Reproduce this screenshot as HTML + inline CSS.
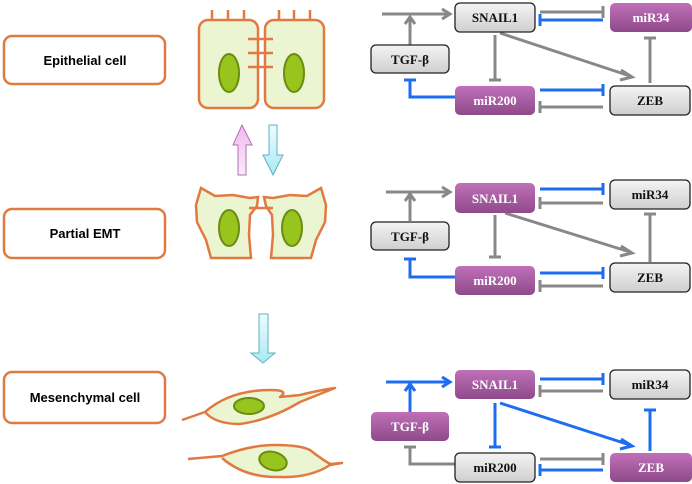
<!DOCTYPE html>
<html><head><meta charset="utf-8"><style>
html,body{margin:0;padding:0;background:#fff;width:692px;height:484px;overflow:hidden}
svg{display:block}
text{font-family:"Liberation Serif",serif;font-weight:bold;font-size:13px;text-anchor:middle}
.lab{font-family:"Liberation Sans",sans-serif;font-size:13px}
</style></head><body>
<svg width="692" height="484" viewBox="0 0 692 484" xmlns="http://www.w3.org/2000/svg">
<defs>
<linearGradient id="gg" x1="0" y1="0" x2="0" y2="1"><stop offset="0" stop-color="#f4f4f4"/><stop offset="1" stop-color="#cfcfcf"/></linearGradient>
<linearGradient id="pg" x1="0" y1="0" x2="0" y2="1"><stop offset="0" stop-color="#c070b8"/><stop offset="1" stop-color="#8e4a8a"/></linearGradient>
<linearGradient id="pk" x1="0" y1="0" x2="0" y2="1"><stop offset="0" stop-color="#f0b8ee"/><stop offset="1" stop-color="#fbeafb"/></linearGradient>
<linearGradient id="cy" x1="0" y1="0" x2="0" y2="1"><stop offset="0" stop-color="#eefcfe"/><stop offset="1" stop-color="#a8eaf4"/></linearGradient>
</defs>
<g fill="#fff" stroke="#e07a40" stroke-width="2.5">
<rect x="4" y="36" width="161" height="48" rx="8"/>
<rect x="4" y="209" width="161" height="49" rx="8"/>
<rect x="4" y="372" width="161" height="51" rx="8"/>
</g>
<text class="lab" x="85" y="65">Epithelial cell</text>
<text class="lab" x="85" y="238">Partial EMT</text>
<text class="lab" x="85" y="402">Mesenchymal  cell</text>

<g stroke="#e07a40" stroke-width="2.5">
<line x1="212" y1="10" x2="212" y2="29"/><line x1="228" y1="10" x2="228" y2="29"/><line x1="244" y1="10" x2="244" y2="29"/>
<line x1="279" y1="10" x2="279" y2="29"/><line x1="294" y1="10" x2="294" y2="29"/><line x1="310" y1="10" x2="310" y2="29"/>
<rect x="199" y="20" width="59" height="88" rx="9" fill="#ecf5d2"/>
<rect x="265" y="20" width="59" height="88" rx="9" fill="#ecf5d2"/>
<line x1="248" y1="39" x2="273" y2="39"/><line x1="248" y1="53" x2="273" y2="53"/><line x1="248" y1="67" x2="273" y2="67"/>
</g>
<g fill="#98c41e" stroke="#6a8c10" stroke-width="2">
<ellipse cx="229" cy="73" rx="10" ry="19"/><ellipse cx="294" cy="73" rx="10" ry="19"/>
</g>
<path d="M238,175 L238,145 L233,145 L242,125 L252,145 L246,145 L246,175 Z" fill="url(#pk)" stroke="#b070b0"/>
<path d="M269,125 L277,125 L277,155 L283,155 L273,175 L263,155 L269,155 Z" fill="url(#cy)" stroke="#60b0c0"/>
<path d="M259,314 L268,314 L268,353 L275,353 L263,363 L251,353 L259,353 Z" fill="url(#cy)" stroke="#60b0c0"/>

<g stroke="#e07a40" stroke-width="2.5" fill="#ecf5d2">
<path d="M201,188 L215,196 L233,195 L250,198 L258,197 L257,206 L250,215 L249,235 L251,258 L211,258 L206,240 L197,222 L196,205 Z"/>
<path d="M321,188 L307,196 L290,195 L273,198 L264,197 L266,206 L272,215 L273,235 L271,258 L311,258 L316,240 L325,222 L326,205 Z"/>
<line x1="249" y1="208" x2="273" y2="208"/>
</g>
<g fill="#98c41e" stroke="#6a8c10" stroke-width="2">
<ellipse cx="229" cy="228" rx="10" ry="18"/><ellipse cx="292" cy="228" rx="10" ry="18"/>
</g>

<g stroke="#e07a40" stroke-width="2.5" fill="#ecf5d2" stroke-linejoin="round">
<path d="M182,420 L205,412 Q230,390 270,390 Q290,390 280,397 L300,395 Q320,390 335,388 Q320,394 300,402 Q270,420 240,424 Q215,424 205,412"/>
<path d="M188,459 L222,456 Q250,445 275,445 Q300,445 310,450 Q320,458 330,464 L342,463 L330,465 Q310,478 280,477 Q245,478 222,458"/>
</g>
<g fill="#98c41e" stroke="#6a8c10" stroke-width="2">
<ellipse cx="249" cy="406" rx="15" ry="8"/><ellipse cx="273" cy="461" rx="14" ry="9" transform="rotate(15 273 461)"/>
</g>

<g stroke-width="3" fill="none">
<g>
<path d="M382,14 H448 M442,9 L450,14 L442,19" stroke="#888"/>
<path d="M410,45 V18 M405,24 L410,17 L415,24" stroke="#888"/>
<path d="M540,12 H603 M603,6 V18" stroke="#888"/>
<path d="M603,20 H540 M540,14 V26" stroke="#1e6cf0"/>
<path d="M495,35 V80 M489,80 H501" stroke="#888"/>
<path d="M500,33 L630,76 M621,70 L632,77 L620,80" stroke="#888"/>
<path d="M650,83 V38 M644,38 H656" stroke="#888"/>
<path d="M455,97 H410 V80 M404,80 H416" stroke="#1e6cf0"/>
<path d="M540,90 H603 M603,84 V96" stroke="#1e6cf0"/>
<path d="M603,107 H540 M540,101 V113" stroke="#888"/>
</g>
<g transform="translate(0,180)">
<path d="M386,12 H448 M442,7 L450,12 L442,17" stroke="#888"/>
<path d="M410,41 V15 M405,21 L410,14 L415,21" stroke="#888"/>
<path d="M540,9 H603 M603,3 V15" stroke="#1e6cf0"/>
<path d="M603,23 H540 M540,17 V29" stroke="#888"/>
<path d="M495,35 V77 M489,77 H501" stroke="#888"/>
<path d="M505,33 L630,72 M621,66 L632,73 L620,76" stroke="#888"/>
<path d="M650,82 V34 M644,34 H656" stroke="#888"/>
<path d="M455,97 H410 V79 M404,79 H416" stroke="#1e6cf0"/>
<path d="M540,93 H603 M603,87 V99" stroke="#1e6cf0"/>
<path d="M603,106 H540 M540,100 V112" stroke="#888"/>
</g>
<g transform="translate(0,367)">
<path d="M386,15 H448 M442,10 L450,15 L442,20" stroke="#1e6cf0"/>
<path d="M410,45 V18 M405,24 L410,17 L415,24" stroke="#1e6cf0"/>
<path d="M540,12 H603 M603,6 V18" stroke="#1e6cf0"/>
<path d="M603,24 H540 M540,18 V30" stroke="#888"/>
<path d="M495,36 V80 M489,80 H501" stroke="#1e6cf0"/>
<path d="M500,36 L630,78 M621,72 L632,79 L620,82" stroke="#1e6cf0"/>
<path d="M650,84 V43 M644,43 H656" stroke="#1e6cf0"/>
<path d="M455,97 H410 V80 M404,80 H416" stroke="#888"/>
<path d="M540,92 H603 M603,86 V98" stroke="#888"/>
<path d="M603,103 H540 M540,97 V109" stroke="#1e6cf0"/>
</g>
</g>

<g stroke="#222" stroke-width="1.3">
<rect x="455" y="3" width="80" height="29" rx="5" fill="url(#gg)"/>
<rect x="610" y="3" width="82" height="29" rx="5" fill="url(#pg)" stroke="none"/>
<rect x="371" y="45" width="78" height="28" rx="5" fill="url(#gg)"/>
<rect x="455" y="86" width="80" height="29" rx="5" fill="url(#pg)" stroke="none"/>
<rect x="610" y="86" width="80" height="29" rx="5" fill="url(#gg)"/>
<rect x="455" y="183" width="80" height="30" rx="5" fill="url(#pg)" stroke="none"/>
<rect x="610" y="180" width="80" height="29" rx="5" fill="url(#gg)"/>
<rect x="371" y="222" width="78" height="28" rx="5" fill="url(#gg)"/>
<rect x="455" y="266" width="80" height="29" rx="5" fill="url(#pg)" stroke="none"/>
<rect x="610" y="263" width="80" height="29" rx="5" fill="url(#gg)"/>
<rect x="455" y="370" width="80" height="29" rx="5" fill="url(#pg)" stroke="none"/>
<rect x="610" y="370" width="80" height="29" rx="5" fill="url(#gg)"/>
<rect x="371" y="412" width="78" height="29" rx="5" fill="url(#pg)" stroke="none"/>
<rect x="455" y="453" width="80" height="29" rx="5" fill="url(#gg)"/>
<rect x="610" y="453" width="82" height="29" rx="5" fill="url(#pg)" stroke="none"/>
</g>
<g>
<text x="495" y="22" fill="#111">SNAIL1</text>
<text x="651" y="22" fill="#fff">miR34</text>
<text x="410" y="64" fill="#111">TGF-β</text>
<text x="495" y="105" fill="#fff">miR200</text>
<text x="650" y="105" fill="#111">ZEB</text>
<text x="495" y="203" fill="#fff">SNAIL1</text>
<text x="650" y="199" fill="#111">miR34</text>
<text x="410" y="241" fill="#111">TGF-β</text>
<text x="495" y="285" fill="#fff">miR200</text>
<text x="650" y="282" fill="#111">ZEB</text>
<text x="495" y="389" fill="#fff">SNAIL1</text>
<text x="650" y="389" fill="#111">miR34</text>
<text x="410" y="431" fill="#fff">TGF-β</text>
<text x="495" y="472" fill="#111">miR200</text>
<text x="651" y="472" fill="#fff">ZEB</text>
</g>
</svg>
</body></html>
